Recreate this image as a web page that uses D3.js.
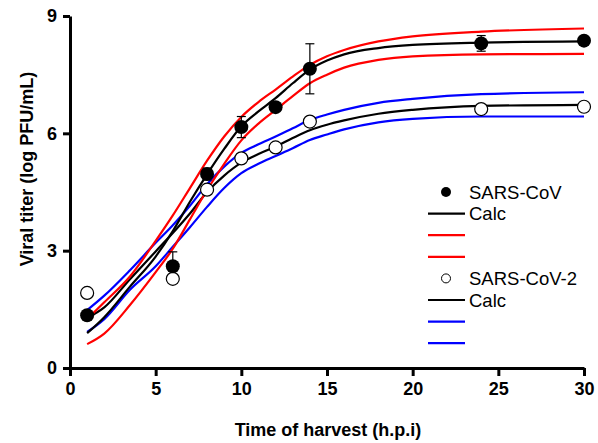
<!DOCTYPE html>
<html>
<head>
<meta charset="utf-8">
<script src="https://cdn.jsdelivr.net/npm/d3@7"></script>
<style>
  body { margin: 0; background: #fff; }
  text { font-family: "Liberation Sans", Arial, sans-serif; }
</style>
</head>
<body>
<div id="chart"></div>
<script>
// measured points
var times = [1, 6, 8, 10, 12, 14, 24, 30];
var sarsCov = [1.35, 2.6, 4.96, 6.16, 6.67, 7.65, 8.3, 8.37];
var sarsCovErr = [0.05, 0.37, 0.15, 0.27, 0.08, 0.64, 0.2, 0.08];
var sarsCov2 = [1.92, 2.28, 4.56, 5.36, 5.64, 6.3, 6.62, 6.68];

// model curves
var calcTimes = [1, 2, 3.5, 5, 6, 7, 8, 9, 10, 11, 12, 13, 14, 15, 16, 18, 20, 24, 30];
var covCalc  = [0.89, 1.3, 2.08, 2.85, 3.5, 4.25, 4.95, 5.6, 6.18, 6.56, 6.9, 7.28, 7.63, 7.86, 8.02, 8.18, 8.26, 8.32, 8.35];
var covUpper = [1.25, 1.68, 2.34, 3.25, 3.9, 4.6, 5.3, 5.92, 6.42, 6.8, 7.12, 7.45, 7.75, 7.97, 8.13, 8.35, 8.48, 8.6, 8.68];
var covLower = [0.61, 0.88, 1.61, 2.45, 3.05, 3.8, 4.55, 5.22, 5.82, 6.25, 6.6, 6.95, 7.28, 7.5, 7.68, 7.88, 7.97, 8.02, 8.03];
var cov2Calc  = [1.28, 1.55, 2.27, 2.98, 3.45, 3.95, 4.5, 4.92, 5.25, 5.47, 5.66, 5.88, 6.08, 6.22, 6.33, 6.5, 6.6, 6.7, 6.73];
var cov2Upper = [1.48, 1.85, 2.5, 3.2, 3.65, 4.15, 4.7, 5.15, 5.5, 5.72, 5.92, 6.13, 6.34, 6.48, 6.6, 6.78, 6.88, 7.0, 7.05];
var cov2Lower = [0.92, 1.25, 2.0, 2.6, 3.1, 3.6, 4.12, 4.6, 4.98, 5.22, 5.42, 5.62, 5.83, 5.97, 6.1, 6.28, 6.37, 6.43, 6.43];

var xTicks = [0, 5, 10, 15, 20, 25, 30];
var yTicks = [0, 3, 6, 9];

var legendLabels = ['SARS-CoV', 'Calc', '', '', 'SARS-CoV-2', 'Calc', '', ''];
var legendKinds = ['filled', 'black', 'red', 'red', 'open', 'black', 'blue', 'blue'];

var width = 598, height = 443;
var svg = d3.select('#chart').append('svg')
  .attr('width', width)
  .attr('height', height);

var x = d3.scaleLinear().domain([0, 30]).range([70, 584]);
var y = d3.scaleLinear().domain([0, 9]).range([368, 16]);

// axes
var xAxis = svg.append('g')
  .attr('transform', 'translate(0,368)')
  .call(d3.axisBottom(x).tickValues(xTicks).tickSize(8).tickSizeOuter(0).tickPadding(6));
var yAxis = svg.append('g')
  .attr('transform', 'translate(70,0)')
  .call(d3.axisLeft(y).tickValues(yTicks).tickSize(7).tickSizeOuter(0).tickPadding(6));

[xAxis, yAxis].forEach(function(g){
  g.select('.domain').attr('stroke', '#000').attr('stroke-width', 3);
  g.selectAll('.tick line').attr('stroke', '#000').attr('stroke-width', 3);
  g.selectAll('.tick text')
    .attr('fill', '#000')
    .style('font-size', '18px')
    .style('font-weight', 'bold')
    .style('font-family', '"Liberation Sans", Arial, sans-serif');
});

svg.append('text')
  .attr('x', 328).attr('y', 436)
  .attr('text-anchor', 'middle')
  .style('font-size', '18px').style('font-weight', 'bold')
  .text('Time of harvest (h.p.i)');

svg.append('text')
  .attr('transform', 'translate(33,169) rotate(-90)')
  .attr('text-anchor', 'middle')
  .style('font-size', '18px').style('font-weight', 'bold')
  .text('Viral titer (log PFU/mL)');

// curves
var line = d3.line()
  .x(function(d){ return x(d[0]); })
  .y(function(d){ return y(d[1]); })
  .curve(d3.curveMonotoneX);

var curves = [
  { vals: cov2Upper, color: '#0000ff' },
  { vals: cov2Lower, color: '#0000ff' },
  { vals: cov2Calc, color: '#000' },
  { vals: covUpper, color: '#ff0000' },
  { vals: covLower, color: '#ff0000' },
  { vals: covCalc, color: '#000' }
];

svg.selectAll('path.curve')
  .data(curves)
  .enter()
  .append('path')
  .attr('class', 'curve')
  .attr('fill', 'none')
  .attr('stroke', function(d){ return d.color; })
  .attr('stroke-width', 2.2)
  .attr('d', function(d){
    return line(calcTimes.map(function(t, i){ return [t, d.vals[i]]; }));
  });

// error bars for SARS-CoV
var err = svg.append('g').attr('stroke', '#000').attr('stroke-width', 1.2);
times.forEach(function(t, i){
  var top = y(sarsCov[i] + sarsCovErr[i]), bot = y(sarsCov[i] - sarsCovErr[i]);
  err.append('line').attr('x1', x(t)).attr('x2', x(t)).attr('y1', top).attr('y2', bot);
  err.append('line').attr('x1', x(t) - 4.5).attr('x2', x(t) + 4.5).attr('y1', top).attr('y2', top);
  err.append('line').attr('x1', x(t) - 4.5).attr('x2', x(t) + 4.5).attr('y1', bot).attr('y2', bot);
});

// points
svg.selectAll('circle.cov2')
  .data(times)
  .enter()
  .append('circle')
  .attr('class', 'cov2')
  .attr('cx', function(d){ return x(d); })
  .attr('cy', function(d, i){ return y(sarsCov2[i]); })
  .attr('r', 6.5)
  .attr('fill', '#fff')
  .attr('stroke', '#000')
  .attr('stroke-width', 1.2);

svg.selectAll('circle.cov')
  .data(times)
  .enter()
  .append('circle')
  .attr('class', 'cov')
  .attr('cx', function(d){ return x(d); })
  .attr('cy', function(d, i){ return y(sarsCov[i]); })
  .attr('r', 7)
  .attr('fill', '#000');

// legend
var colorOf = { black: '#000', red: '#ff0000', blue: '#0000ff' };
var legend = svg.append('g').attr('transform', 'translate(0,192)');
legendKinds.forEach(function(k, i){
  var row = legend.append('g').attr('transform', 'translate(0,' + (i * 21.6) + ')');
  if (k === 'filled') {
    row.append('circle').attr('cx', 446).attr('cy', 0).attr('r', 5).attr('fill', '#000');
  } else if (k === 'open') {
    row.append('circle').attr('cx', 446).attr('cy', 0).attr('r', 4.5)
      .attr('fill', '#fff').attr('stroke', '#000').attr('stroke-width', 1);
  } else {
    row.append('line').attr('x1', 428).attr('x2', 465).attr('y1', 0).attr('y2', 0)
      .attr('stroke', colorOf[k]).attr('stroke-width', 2.2);
  }
  if (legendLabels[i]) {
    row.append('text').attr('x', 469).attr('y', 6.5)
      .style('font-size', '18.5px')
      .text(legendLabels[i]);
  }
});
</script>
</body>
</html>
